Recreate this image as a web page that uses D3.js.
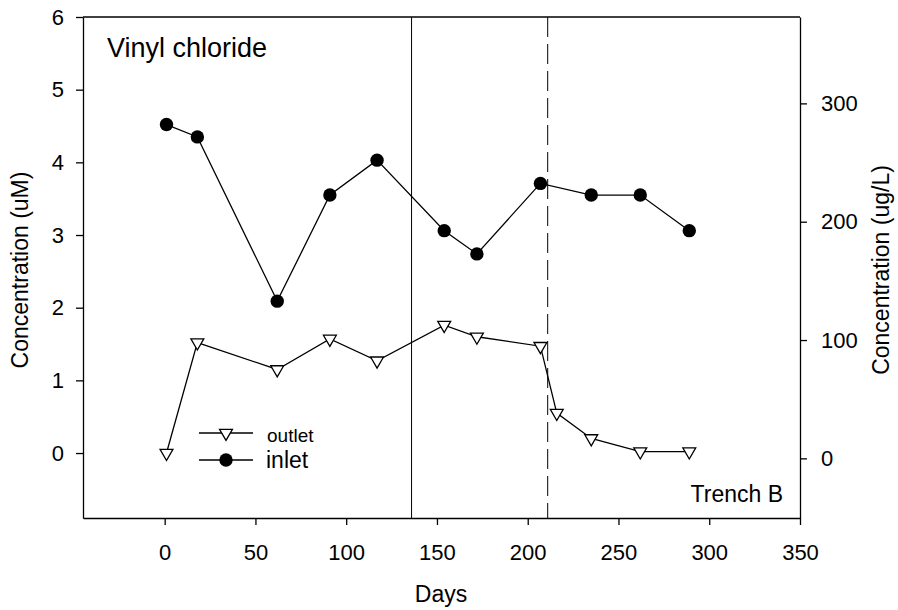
<!DOCTYPE html>
<html>
<head>
<meta charset="utf-8">
<script src="https://cdn.jsdelivr.net/npm/d3@7"></script>
<style>
  body { margin: 0; background: #fff; }
  text { font-family: "Liberation Sans", Arial, sans-serif; fill: #000; }
</style>
</head>
<body>
<div id="chart"></div>
<script>
// values
const inletDays = [1, 18, 62, 91, 117, 154, 172, 207, 235, 262, 289];
const inletConc = [4.52, 4.35, 2.09, 3.55, 4.03, 3.06, 2.74, 3.71, 3.55, 3.55, 3.06];
const outletDays = [1, 18, 62, 91, 117, 154, 172, 207, 216, 235, 262, 289];
const outletConc = [0.0, 1.52, 1.15, 1.57, 1.27, 1.76, 1.60, 1.47, 0.55, 0.20, 0.02, 0.02];
const xTicks = [0, 50, 100, 150, 200, 250, 300, 350];
const yTicks = [0, 1, 2, 3, 4, 5, 6];
const y2Ticks = [0, 100, 200, 300];
const solidLineDay = 136;
const dashedLineDay = 211;

const width = 898;
const height = 610;
const plotLeft = 83, plotRight = 800, plotTop = 17, plotBottom = 518;

const svg = d3.select("#chart")
    .append("svg")
    .attr("width", width)
    .attr("height", height);

const x = d3.scaleLinear().domain([-45, 350]).range([plotLeft, plotRight]);
const y = d3.scaleLinear().domain([-0.894, 6]).range([plotBottom, plotTop]);
const y2 = d3.scaleLinear().domain([-50.4, 373]).range([plotBottom, plotTop]);

// frame top line
svg.append("line")
    .attr("x1", plotLeft).attr("x2", plotRight)
    .attr("y1", plotTop).attr("y2", plotTop)
    .attr("stroke", "black").attr("stroke-width", 1.3);

// axes
const fmt = d3.format("d");
const xAxis = svg.append("g")
    .attr("transform", `translate(0,${plotBottom})`)
    .call(d3.axisBottom(x).tickValues(xTicks).tickFormat(fmt).tickSize(7).tickPadding(19).tickSizeOuter(0));

const yAxis = svg.append("g")
    .attr("transform", `translate(${plotLeft},0)`)
    .call(d3.axisLeft(y).tickValues(yTicks).tickFormat(fmt).tickSize(7).tickPadding(12).tickSizeOuter(0));

const y2Axis = svg.append("g")
    .attr("transform", `translate(${plotRight},0)`)
    .call(d3.axisRight(y2).tickValues(y2Ticks).tickFormat(fmt).tickSize(7).tickPadding(14).tickSizeOuter(0));

[xAxis, yAxis, y2Axis].forEach(g => {
    g.selectAll("text").style("font-size", "22px")
        .style("font-family", "Liberation Sans, Arial, sans-serif");
    g.select(".domain").attr("stroke-width", 1.3);
    g.selectAll(".tick line").attr("stroke-width", 1.3);
});

// vertical markers
svg.append("line")
    .attr("x1", x(solidLineDay)).attr("x2", x(solidLineDay))
    .attr("y1", plotTop).attr("y2", plotBottom)
    .attr("stroke", "black").attr("stroke-width", 1);

svg.append("line")
    .attr("x1", x(dashedLineDay)).attr("x2", x(dashedLineDay))
    .attr("y1", plotTop).attr("y2", plotBottom)
    .attr("stroke", "black").attr("stroke-width", 1)
    .attr("stroke-dasharray", "20,7");

const line = d3.line()
    .x(d => x(d[0]))
    .y(d => y(d[1]));

const inlet = inletDays.map((d, i) => [d, inletConc[i]]);
const outlet = outletDays.map((d, i) => [d, outletConc[i]]);

// outlet series
svg.append("path")
    .datum(outlet)
    .attr("d", line)
    .attr("fill", "none")
    .attr("stroke", "black")
    .attr("stroke-width", 1.3);

const tri = d3.symbol().type(d3.symbolTriangle).size(72);

svg.selectAll(".outlet")
    .data(outlet)
    .join("path")
    .attr("class", "outlet")
    .attr("d", tri)
    .attr("transform", d => `translate(${x(d[0])},${y(d[1])}) rotate(180)`)
    .attr("fill", "white")
    .attr("stroke", "black")
    .attr("stroke-width", 1.3);

// inlet series
svg.append("path")
    .datum(inlet)
    .attr("d", line)
    .attr("fill", "none")
    .attr("stroke", "black")
    .attr("stroke-width", 1.3);

svg.selectAll(".inlet")
    .data(inlet)
    .join("circle")
    .attr("class", "inlet")
    .attr("cx", d => x(d[0]))
    .attr("cy", d => y(d[1]))
    .attr("r", 6.7)
    .attr("fill", "black");

// legend
const lg = svg.append("g");
lg.append("line").attr("x1", 199).attr("x2", 253).attr("y1", 433).attr("y2", 433)
    .attr("stroke", "black").attr("stroke-width", 1.3);
lg.append("path").attr("d", tri)
    .attr("transform", "translate(226,433) rotate(180)")
    .attr("fill", "white").attr("stroke", "black").attr("stroke-width", 1.3);
lg.append("text").attr("x", 267).attr("y", 441.5).style("font-size", "19px").text("outlet");

lg.append("line").attr("x1", 199).attr("x2", 253).attr("y1", 460).attr("y2", 460)
    .attr("stroke", "black").attr("stroke-width", 1.3);
lg.append("circle").attr("cx", 226).attr("cy", 460).attr("r", 6.7).attr("fill", "black");
lg.append("text").attr("x", 266).attr("y", 468).style("font-size", "23px").text("inlet");

// annotations
svg.append("text").attr("x", 107).attr("y", 57).style("font-size", "27px").text("Vinyl chloride");
svg.append("text").attr("x", 783).attr("y", 502).attr("text-anchor", "end")
    .style("font-size", "23px").text("Trench B");

// axis titles
svg.append("text")
    .attr("x", 441).attr("y", 602)
    .attr("text-anchor", "middle")
    .style("font-size", "23px").text("Days");

svg.append("text")
    .attr("transform", "translate(28,270) rotate(-90)")
    .attr("text-anchor", "middle")
    .style("font-size", "23px").text("Concentration (uM)");

svg.append("text")
    .attr("transform", "translate(889,270) rotate(-90)")
    .attr("text-anchor", "middle")
    .style("font-size", "23px").text("Concentration (ug/L)");
</script>
</body>
</html>
